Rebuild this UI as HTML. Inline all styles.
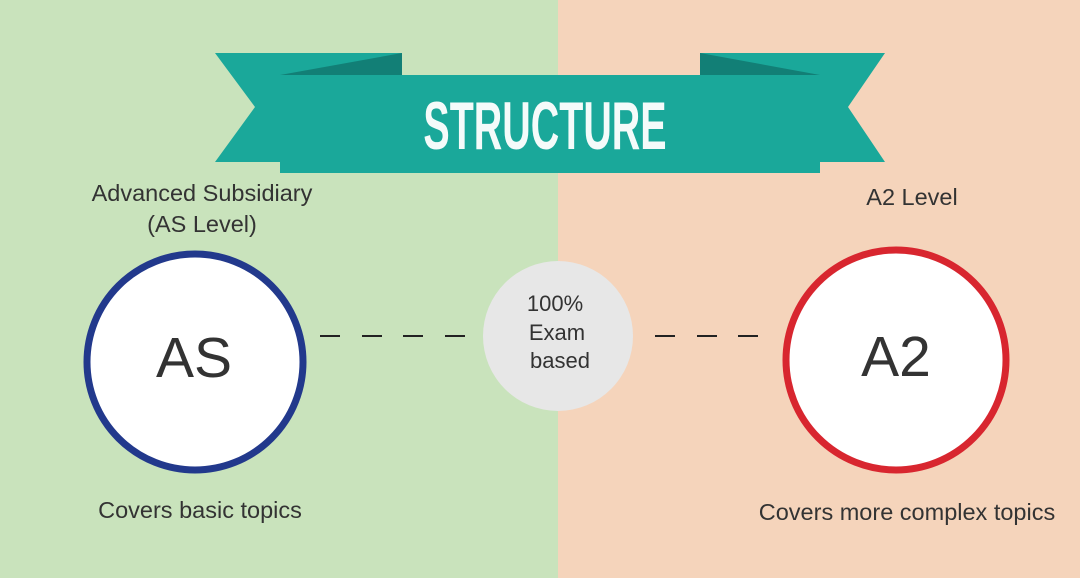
<!DOCTYPE html>
<html><head><style>
body{margin:0;width:1080px;height:578px;overflow:hidden;font-family:"Liberation Sans",sans-serif}
</style></head><body>
<svg width="1080" height="578" viewBox="0 0 1080 578" xmlns="http://www.w3.org/2000/svg">
<rect x="0" y="0" width="558" height="578" fill="#c9e3bc"/>
<rect x="558" y="0" width="522" height="578" fill="#f5d4bb"/>
<polygon points="215,53 402,53 402,75 280,75 280,162 215,162 255,107" fill="#1aa89a"/>
<polygon points="280,75 402,53 402,75" fill="#127f76"/>
<polygon points="885,53 700,53 700,75 820,75 820,162 885,162 848,107" fill="#1aa89a"/>
<polygon points="820,75 700,53 700,75" fill="#127f76"/>
<rect x="280" y="75" width="540" height="98" fill="#1aa89a"/>
<text x="545" y="149" text-anchor="middle" font-weight="bold" font-size="68" fill="#f4fbfa" transform="translate(545 0) scale(0.58 1) translate(-545 0)">STRUCTURE</text>
<text x="202" y="201" text-anchor="middle" font-size="23.5" fill="#333">Advanced Subsidiary</text>
<text x="202" y="232" text-anchor="middle" font-size="23.5" fill="#333">(AS Level)</text>
<text x="912" y="205" text-anchor="middle" font-size="23.5" fill="#333">A2 Level</text>
<circle cx="195" cy="362" r="108" fill="#fff" stroke="#22398c" stroke-width="7"/>
<text x="194" y="377" text-anchor="middle" font-size="57" fill="#333">AS</text>
<circle cx="896" cy="360" r="110" fill="#fff" stroke="#d8262f" stroke-width="7"/>
<text x="896" y="376" text-anchor="middle" font-size="57" fill="#333">A2</text>
<circle cx="558" cy="336" r="75" fill="#e7e7e7"/>
<text x="555" y="311" text-anchor="middle" font-size="22" fill="#333">100%</text>
<text x="557" y="340" text-anchor="middle" font-size="22" fill="#333">Exam</text>
<text x="560" y="368" text-anchor="middle" font-size="22" fill="#333">based</text>
<g stroke="#222" stroke-width="2">
<line x1="320" y1="336" x2="340" y2="336"/><line x1="362" y1="336" x2="382" y2="336"/>
<line x1="403" y1="336" x2="423" y2="336"/><line x1="445" y1="336" x2="465" y2="336"/>
<line x1="655" y1="336" x2="675" y2="336"/><line x1="697" y1="336" x2="717" y2="336"/>
<line x1="738" y1="336" x2="758" y2="336"/>
</g>
<text x="200" y="518" text-anchor="middle" font-size="23.5" fill="#333">Covers basic topics</text>
<text x="907" y="520" text-anchor="middle" font-size="23.5" fill="#333">Covers more complex topics</text>
</svg>
</body></html>
